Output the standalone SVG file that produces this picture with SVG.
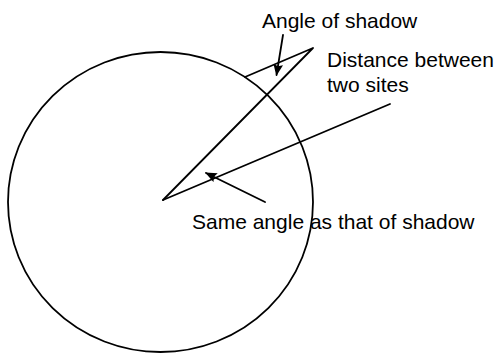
<svg xmlns="http://www.w3.org/2000/svg" width="499" height="354" viewBox="0 0 499 354">
<defs>
<style>
.ln{fill:none;stroke:#000;stroke-width:1.8;stroke-linecap:round;stroke-linejoin:round}
.tx{font-family:"Liberation Sans",Arial,sans-serif;font-size:21px;fill:#000}
</style>
<marker id="ah" viewBox="0 0 12 10" refX="11" refY="5" markerWidth="6.5" markerHeight="5.5" orient="auto" markerUnits="strokeWidth">
<path d="M0,0 L12,5 L0,10 L2,5 Z" fill="#000"/>
</marker>
</defs>
<rect width="499" height="354" fill="#fff"/>
<g id="earth">
<ellipse class="ln" cx="160.5" cy="202" rx="152.5" ry="150"/>
</g>
<g id="connectors">
<polyline id="rays" class="ln" points="163,200 313,48 245,77"/>
<line id="chord" class="ln" x1="163" y1="200" x2="390" y2="104"/>
<line class="ln" x1="283" y1="35" x2="276.5" y2="75" marker-end="url(#ah)"/>
<line class="ln" x1="265" y1="202" x2="206" y2="173" marker-end="url(#ah)"/>
</g>
<g id="label-angle"><text class="tx" x="262" y="28">Angle of shadow</text></g>
<g id="label-distance"><text class="tx" x="327" y="67">Distance between</text><text class="tx" x="327" y="92">two sites</text></g>
<g id="label-same"><text class="tx" x="192" y="229">Same angle as that of shadow</text></g>
</svg>
